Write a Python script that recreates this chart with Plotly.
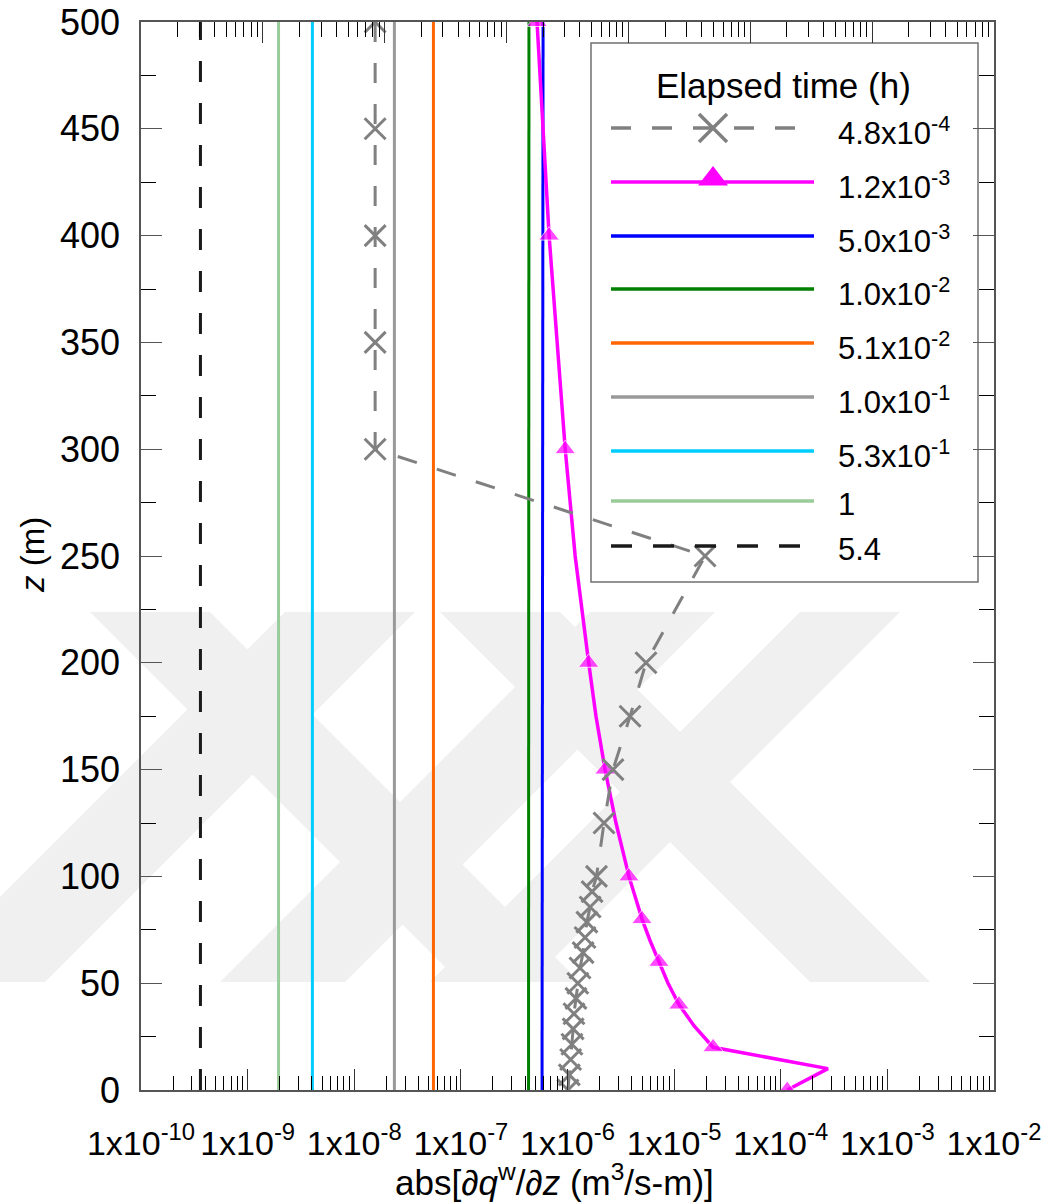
import plotly.graph_objects as go

# ---------------- data ----------------
z_span = [0, 500]
x_t54 = [3.61e-10, 3.61e-10]
x_t1 = [1.95e-9, 1.95e-9]
x_t053 = [4.05e-9, 4.05e-9]
x_t01 = [2.38e-8, 2.38e-8]
x_t0051 = [5.53e-8, 5.53e-8]
x_t001 = [4.31e-7, 4.35e-7]
x_t0005 = [5.77e-7, 5.9e-7]

z_t48 = [500, 450, 400, 350, 300, 250, 200, 175, 150, 125, 100, 92.9, 85.7, 78.6,
         71.4, 64.3, 57.1, 50, 42.9, 35.7, 28.6, 21.4, 14.3, 7.1, 0]
x_t48 = [1.57e-8, 1.57e-8, 1.57e-8, 1.57e-8, 1.57e-8, 1.95e-5, 5.45e-6, 3.86e-6,
         2.67e-6, 2.2e-6, 1.87e-6, 1.70e-6, 1.63e-6, 1.52e-6, 1.46e-6, 1.40e-6,
         1.31e-6, 1.25e-6, 1.20e-6, 1.15e-6, 1.13e-6, 1.10e-6, 1.07e-6, 1.04e-6, 1.01e-6]

z_t12 = [500, 400, 300, 250, 200, 175, 150, 125, 100, 90, 80, 70, 60, 50, 40, 30, 20, 10, 0]
x_t12 = [5.18e-7, 6.72e-7, 9.52e-7, 1.18e-6, 1.58e-6, 1.85e-6, 2.25e-6, 2.85e-6,
         3.77e-6, 4.3e-6, 5.0e-6, 5.94e-6, 7.21e-6, 8.77e-6, 1.11e-5, 1.54e-5,
         2.32e-5, 2.77e-4, 1.15e-4]
mark_t12 = [1, 1, 1, 0, 1, 0, 1, 0, 1, 0, 1, 0, 1, 0, 1, 0, 1, 0, 1]

legend_labels = ["4.8x10<sup>-4</sup>", "1.2x10<sup>-3</sup>", "5.0x10<sup>-3</sup>",
                 "1.0x10<sup>-2</sup>", "5.1x10<sup>-2</sup>", "1.0x10<sup>-1</sup>",
                 "5.3x10<sup>-1</sup>", "1", "5.4"]
x_tickvals = [1e-10, 1e-9, 1e-8, 1e-7, 1e-6, 1e-5, 1e-4, 1e-3, 1e-2]
x_ticktext = ["1x10<sup>-10</sup>", "1x10<sup>-9</sup>", "1x10<sup>-8</sup>", "1x10<sup>-7</sup>",
              "1x10<sup>-6</sup>", "1x10<sup>-5</sup>", "1x10<sup>-4</sup>", "1x10<sup>-3</sup>",
              "1x10<sup>-2</sup>"]

# ---------------- styling ----------------
FONT = "Liberation Sans, Arial, sans-serif"
W, H = 1053, 1204
PL, PR, PT, PB = 141, 994, 22, 1090  # plot area in pixels

C_GRAYX = "#808080"
C_MAG = "#ff00ff"
C_BLUE = "#0000ff"
C_GREEN = "#008000"
C_ORANGE = "#ff6600"
C_GRAY = "#999999"
C_CYAN = "#00ccff"
C_LGREEN = "#99cc99"
C_BLACK = "#1a1a1a"

fig = go.Figure()

def px2paper(px, py):
    return (px - PL) / (PR - PL), (PB - py) / (PB - PT)

# faint background watermark (diagonal bands)
WM_TOP, WM_BOT = 612, 982
wm_bands = [(285, 415, -1), (90, 210, 1), (590, 715, -1), (440, 560, 1), (800, 900, -1)]
for x0, x1, d in wm_bands:
    dy = WM_BOT - WM_TOP
    pts = [(x0, WM_TOP), (x1, WM_TOP), (x1 + d * dy, WM_BOT), (x0 + d * dy, WM_BOT)]
    pp = [px2paper(a, b) for a, b in pts]
    path = "M " + " L ".join(f"{a:.5f},{b:.5f}" for a, b in pp) + " Z"
    fig.add_shape(type="path", path=path, xref="paper", yref="paper",
                  fillcolor="#f0f0f0", line=dict(width=0), layer="below")

def vline(x, color, dash="solid"):
    fig.add_trace(go.Scatter(x=x, y=z_span, mode="lines", showlegend=False,
                             line=dict(color=color, width=3, dash=dash), hoverinfo="skip"))

vline(x_t54, C_BLACK, "21px,21px")
vline(x_t1, C_LGREEN)
vline(x_t053, C_CYAN)
vline(x_t01, C_GRAY)
vline(x_t0051, C_ORANGE)
vline(x_t001, C_GREEN)
vline(x_t0005, C_BLUE)

fig.add_trace(go.Scatter(x=x_t12, y=z_t12, mode="lines+markers", showlegend=False,
                         line=dict(color=C_MAG, width=3.5),
                         marker=dict(symbol="triangle-up", color=C_MAG,
                                     size=[18 if m else 0 for m in mark_t12])))
fig.add_trace(go.Scatter(x=x_t48, y=z_t48, mode="lines+markers", showlegend=False,
                         line=dict(color=C_GRAYX, width=3, dash="20px,21px"),
                         marker=dict(symbol="x-thin-open", size=21, color=C_GRAYX,
                                     line=dict(color=C_GRAYX, width=3))))

# dummy trace for the top axis
fig.add_trace(go.Scatter(x=[1e-5], y=[None], xaxis="x2", yaxis="y", showlegend=False,
                         hoverinfo="skip"))

# ---------------- custom legend (pixel coordinates on overlay axes) ----------------
leg_y = [128, 182, 236, 289, 343, 397, 451, 501, 546]
leg_styles = [
    (C_GRAYX, "20px,21px", "x-thin-open", 803),
    (C_MAG, "solid", "triangle-up", 814),
    (C_BLUE, "solid", None, 814),
    (C_GREEN, "solid", None, 814),
    (C_ORANGE, "solid", None, 814),
    (C_GRAY, "solid", None, 814),
    (C_CYAN, "solid", None, 814),
    (C_LGREEN, "solid", None, 814),
    (C_BLACK, "21px,21px", None, 803),
]
fig.add_shape(type="rect", xref="x3", yref="y3", x0=591, x1=978, y0=43, y1=582,
              line=dict(color="#707070", width=1.5), fillcolor="white", layer="below")
for yy, (col, dash, sym, xend) in zip(leg_y, leg_styles):
    fig.add_trace(go.Scatter(x=[611, xend], y=[yy, yy], xaxis="x3", yaxis="y3", mode="lines",
                             line=dict(color=col, width=3.5, dash=dash), showlegend=False,
                             hoverinfo="skip"))
    if sym is not None:
        if sym == "x-thin-open":
            mk = dict(symbol=sym, size=28, color=col, line=dict(color=col, width=3.5))
        else:
            mk = dict(symbol=sym, size=26, color=col)
        fig.add_trace(go.Scatter(x=[713], y=[yy - (3 if sym == "triangle-up" else 0)],
                                 xaxis="x3", yaxis="y3", mode="markers",
                                 marker=mk, showlegend=False, hoverinfo="skip"))
for yy, lab in zip(leg_y, legend_labels):
    fig.add_annotation(x=836, y=yy + 3, xref="x3", yref="y3", text=lab, showarrow=False,
                       xanchor="left", yanchor="middle", font=dict(size=31, color="black", family=FONT))
fig.add_annotation(x=783, y=85, xref="x3", yref="y3", text="Elapsed time (h)", showarrow=False,
                   xanchor="center", yanchor="middle", font=dict(size=35, color="black", family=FONT))

# axis titles (paper coordinates)
tx, ty = px2paper(554, 1180)
fig.add_annotation(x=tx, y=ty, xref="paper", yref="paper",
                   text="abs[∂<i>q</i><sup>w</sup>/∂<i>z</i> (m<sup>3</sup>/s-m)]",
                   showarrow=False, xanchor="center", yanchor="middle",
                   font=dict(size=35, color="black", family=FONT))
tx, ty = px2paper(32, 555)
fig.add_annotation(x=tx, y=ty, xref="paper", yref="paper", text="<i>z</i> (m)", textangle=-90,
                   showarrow=False, xanchor="center", yanchor="middle",
                   font=dict(size=33, color="black", family=FONT))

# ---------------- axes ----------------
minor_bottom = [m * 10.0 ** e for e in range(-10, -2) for m in range(2, 10)]
minor_top = [m * 10.0 ** e for e in range(-10, -3) for m in range(2, 10)]
TICKC = "#333333"

fig.update_layout(
    width=W, height=H,
    margin=dict(l=PL, r=W - PR, t=PT, b=H - PB, pad=0, autoexpand=False),
    paper_bgcolor="white", plot_bgcolor="white",
    font=dict(family=FONT, color="black"),
    showlegend=False,
    xaxis=dict(type="log", range=[-10, -2], tickmode="array", tickvals=x_tickvals,
               ticktext=x_ticktext, ticks="inside", ticklen=21, tickwidth=1, tickcolor=TICKC,
               showline=True, linecolor="#555555", linewidth=1.5, mirror=False,
               showgrid=False, zeroline=False, automargin=False, ticklabelstandoff=22,
               tickfont=dict(size=34, family=FONT, color="black"),
               minor=dict(tickmode="array", tickvals=minor_bottom, ticks="inside", ticklen=14,
                          tickwidth=1, tickcolor="black", showgrid=False)),
    xaxis2=dict(type="log", range=[-10, -3], overlaying="x", side="top", anchor="y",
                tickmode="array", tickvals=[10.0 ** e for e in range(-10, -2)],
                showticklabels=False, ticks="inside", ticklen=21, tickwidth=1, tickcolor=TICKC,
                showline=True, linecolor="#555555", linewidth=1.5, showgrid=False, zeroline=False,
                automargin=False,
                minor=dict(tickmode="array", tickvals=minor_top, ticks="inside", ticklen=15,
                           tickwidth=1, tickcolor="black", showgrid=False)),
    yaxis=dict(range=[0, 500], tickmode="linear", tick0=0, dtick=50, ticks="inside",
               ticklen=21, tickwidth=1, tickcolor="#555555", showline=True, linecolor="#555555",
               linewidth=1.5, mirror="ticks", showgrid=False, zeroline=False,
               automargin=False, ticklabelstandoff=12,
               tickfont=dict(size=36, family=FONT, color="black"),
               minor=dict(dtick=25, ticks="inside", ticklen=15, tickwidth=1, tickcolor="black",
                          showgrid=False)),
    xaxis3=dict(range=[PL, PR], overlaying="x", visible=False, anchor="y3"),
    yaxis3=dict(range=[PB, PT], overlaying="y", visible=False, anchor="x3"),
)

fig.write_html("out.html")
